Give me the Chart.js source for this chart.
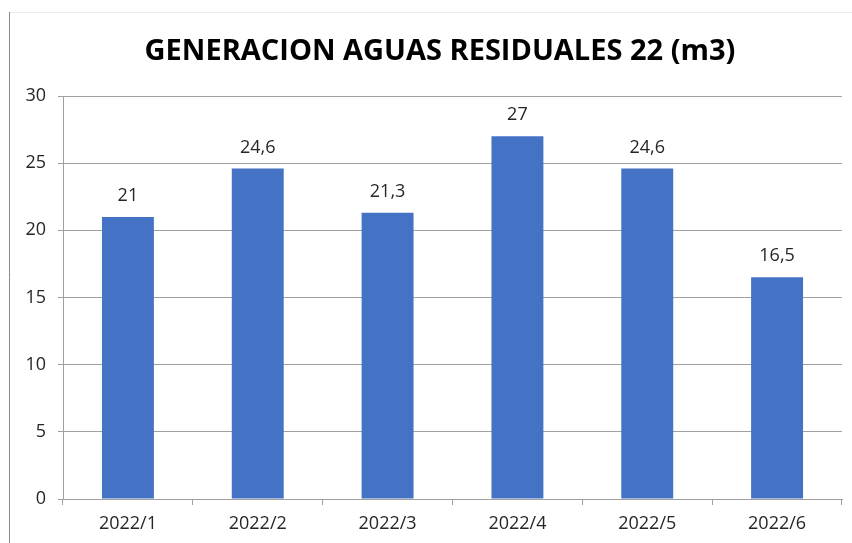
<!DOCTYPE html>
<html>
<head>
<meta charset="utf-8">
<script src="https://cdn.jsdelivr.net/npm/chart.js@4/dist/chart.umd.min.js"></script>
<style>
    html, body { margin: 0; padding: 0; background: #fff; }
    #wrap { width: 852px; height: 543px; position: relative; }
</style>
</head>
<body>
<div id="wrap"><canvas id="aguasChart" width="852" height="543"></canvas></div>
<script>
// Chart data
const months = ['2022/1', '2022/2', '2022/3', '2022/4', '2022/5', '2022/6'];
const volumes = [21, 24.6, 21.3, 27, 24.6, 16.5];
const chartTitle = 'GENERACION AGUAS RESIDUALES 22 (m3)';

const fontFamily = "'Open Sans', 'Noto Sans', sans-serif";
const gridGray = '#a0a0a0';

// Draws the outer frame lines (left and top) and the title
const framePlugin = {
    id: 'frame',
    beforeDraw(chart) {
        const c = chart.ctx;
        c.save();
        c.strokeStyle = '#ececec';
        c.lineWidth = 1;
        c.beginPath();
        c.moveTo(9, 12.5);
        c.lineTo(852, 12.5);
        c.stroke();
        c.strokeStyle = '#8a8a8a';
        c.beginPath();
        c.moveTo(9.5, 12);
        c.lineTo(9.5, 543);
        c.stroke();

        c.font = 'bold 29px ' + fontFamily;
        c.fillStyle = '#000';
        c.textAlign = 'center';
        c.textBaseline = 'middle';
        c.fillText(chartTitle, 440, 52);
        c.restore();
    }
};

// Value labels above each bar, comma decimal separator
const valueLabels = {
    id: 'valueLabels',
    afterDatasetsDraw(chart) {
        const c = chart.ctx;
        const meta = chart.getDatasetMeta(0);
        c.save();
        c.font = '18px ' + fontFamily;
        c.fillStyle = '#262626';
        c.textAlign = 'center';
        c.textBaseline = 'middle';
        meta.data.forEach((bar, i) => {
            const txt = String(volumes[i]).replace('.', ',');
            c.fillText(txt, bar.x, bar.y - 21);
        });
        c.restore();
    }
};

new Chart(document.getElementById('aguasChart'), {
    type: 'bar',
    data: {
        labels: months,
        datasets: [{
            data: volumes,
            backgroundColor: '#4472C4',
            borderWidth: 0,
            barPercentage: 0.4,
            categoryPercentage: 1
        }]
    },
    options: {
        responsive: false,
        animation: false,
        layout: { padding: { left: 0, right: 10, top: 96, bottom: 0 } },
        plugins: {
            legend: { display: false },
            tooltip: { enabled: false },
            title: { display: false }
        },
        scales: {
            x: {
                offset: true,
                grid: {
                    offset: true,
                    drawOnChartArea: false,
                    color: gridGray,
                    tickLength: 6
                },
                border: { color: gridGray },
                ticks: {
                    color: '#262626',
                    font: { family: fontFamily, size: 18 },
                    padding: 8
                },
                afterFit(scale) { scale.height = 44; }
            },
            y: {
                min: 0,
                max: 30,
                ticks: {
                    stepSize: 5,
                    color: '#262626',
                    font: { family: fontFamily, size: 18 },
                    padding: 12
                },
                grid: { color: gridGray, tickLength: 5 },
                border: { color: gridGray },
                afterFit(scale) { scale.width = 63; }
            }
        }
    },
    plugins: [framePlugin, valueLabels]
});
</script>
</body>
</html>
